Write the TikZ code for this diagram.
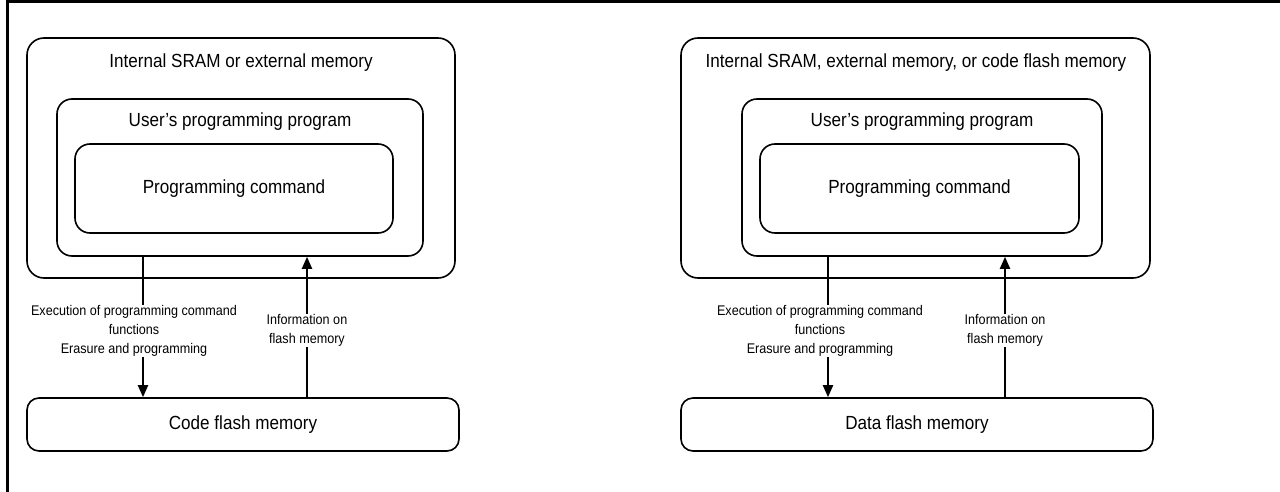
\documentclass[tikz,border=0pt]{standalone}
\usepackage{fontspec}
\setmainfont{Liberation Sans}[FakeStretch=0.9]
\usetikzlibrary{arrows.meta}
\begin{document}
\begin{tikzpicture}[x=1pt,y=-1pt,
  bx/.style={draw,line width=1.6pt,rectangle,rounded corners=15pt,inner sep=0pt},
  flashbox/.style={draw,line width=1.6pt,rectangle,rounded corners=12pt,inner sep=0pt,font=\fontsize{19}{23}\selectfont},
  bigtxt/.style={inner sep=0pt,font=\fontsize{19}{23}\selectfont},
  smalltxt/.style={inner sep=0pt,fill=white,align=center,font=\fontsize{14}{19}\selectfont},
  arr/.style={line width=2pt,-{Triangle[length=12pt,width=10pt]}},
  frameline/.style={line width=3pt}]
\useasboundingbox (0,0) rectangle (1280,492);
% frame
\coordinate (fTL) at (7,1.5);
\coordinate (fTR) at (1280,1.5);
\coordinate (fBL) at (7,492);
\draw[frameline] (fTR) -- (fTL) -- (fBL);
% left panel
\node[bx,rounded corners=17pt,minimum width=428pt,minimum height=240pt] (out1) at (241,158) {};
\node[bx,minimum width=366pt,minimum height=157pt] (mid1) at (240,177.5) {};
\node[bx,minimum width=318pt,minimum height=89pt,font=\fontsize{19}{23}\selectfont] (inn1) at (234,188.5) {Programming command};
\node[flashbox,minimum width=432pt,minimum height=53pt] (fl1) at (243,424.5) {Code flash memory};
\node[bigtxt] (t1) at (241,63) {Internal SRAM or external memory};
\node[bigtxt] (u1) at (240,122) {User’s programming program};
\coordinate (xd1) at (143,0);
\coordinate (xu1) at (307,0);
\draw[arr] (mid1.south -| xd1) -- (fl1.north -| xd1);
\draw[arr] (fl1.north -| xu1) -- (mid1.south -| xu1);
\node[smalltxt] (e1) at (134,331) {Execution of programming command\\functions\\Erasure and programming};
\node[smalltxt] (i1) at (307,330.5) {Information on\\flash memory};
% right panel
\node[bx,rounded corners=17pt,minimum width=469pt,minimum height=240pt] (out2) at (915.5,158) {};
\node[bx,minimum width=360pt,minimum height=157pt] (mid2) at (922,177.5) {};
\node[bx,minimum width=319pt,minimum height=89pt,font=\fontsize{19}{23}\selectfont] (inn2) at (919.5,188.5) {Programming command};
\node[flashbox,minimum width=472pt,minimum height=53pt] (fl2) at (917,424.5) {Data flash memory};
\node[bigtxt] (t2) at (916,63) {Internal SRAM, external memory, or code flash memory};
\node[bigtxt] (u2) at (922,122) {User’s programming program};
\coordinate (xd2) at (828,0);
\coordinate (xu2) at (1005,0);
\draw[arr] (mid2.south -| xd2) -- (fl2.north -| xd2);
\draw[arr] (fl2.north -| xu2) -- (mid2.south -| xu2);
\node[smalltxt] (e2) at (820,331) {Execution of programming command\\functions\\Erasure and programming};
\node[smalltxt] (i2) at (1005,330.5) {Information on\\flash memory};
\end{tikzpicture}
\end{document}
